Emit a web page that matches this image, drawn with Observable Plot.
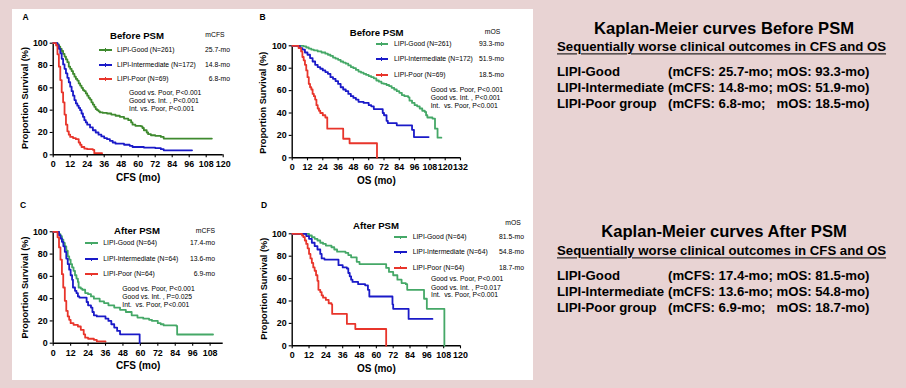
<!DOCTYPE html>
<html>
<head>
<meta charset="utf-8">
<script src="https://cdn.jsdelivr.net/npm/d3@7"></script>
<script src="https://cdn.jsdelivr.net/npm/@observablehq/plot@0.6"></script>
<style>
  html, body { margin: 0; padding: 0; }
  body { width: 906px; height: 388px; position: relative; overflow: hidden; background: #e8d3d3;
         font-family: "Liberation Sans", Arial, sans-serif; color: #000; }
  .abs { position: absolute; white-space: pre; line-height: 1; }
</style>
</head>
<body>
<div style="position:absolute;left:12px;top:9px;width:521px;height:371px;background:#fff"></div>
<script>
// ---------- DATA (month, survival %) ----------
const cfsBeforeGood = [[0,100],[2,100],[3,99],[4,97],[5,95],[6,93],[7,90.5],[8,88],[9,85.5],[10,83],[11,79],[12,77],[13,75],[14,72.5],[15,70],[16,68],[17,66.5],[18,64],[19,62],[20,60],[21,58],[22,57],[23,55],[24,53],[25,51],[26,49.5],[27,47],[28,45],[29,43],[30,41],[31,40],[32,39],[33,38],[35,37.5],[38,37],[41,36],[44,35],[47,34],[50,32.5],[53,31],[55,29],[56,27],[58,26],[62,25.5],[63,24],[64,22],[66,20],[67,18.5],[69,17.5],[72,17],[76,16],[78,14.5],[112,14.5]];
const cfsBeforeInt = [[0,100],[2,100],[3,98],[4,95],[5,91],[6,86],[7,81],[8,77],[9,73],[10,69],[11,65],[12,61],[13,57],[14,53],[15,49],[16,46],[17,44],[18,42],[19,40],[20,37],[21,34],[22,31],[23,29],[24,27],[26,24.5],[28,22],[30,20],[32,18],[34,16.5],[36,15],[38,14],[40,12.5],[42,11],[44,10],[48,10],[50,9],[54,8],[56,7],[64,6.5],[72,6],[76,5],[78,4],[98,4]];
const cfsBeforePoor = [[0,100],[1.5,100],[2,98],[3,90],[4,79],[5,67],[6,56],[7,47],[8,36],[9,27],[10,21],[11,18],[12,16],[14,15],[16,14],[18,11],[19,9],[20,7],[22,5.5],[24,5],[28,4.5],[29,1.5],[34.5,1.5]];

const osBeforeGood = [[0,100],[8,100],[9,99.5],[11,98.5],[13,97.5],[15,96.5],[17,96],[20,95],[23,94],[26,93],[28,92],[30,91],[32,89.5],[34,88.5],[36,87.5],[38,86],[40,85],[42,84],[44,82.5],[46,81],[48,80],[50,78.5],[52,77],[54,76],[56,75],[58,74],[60,73],[62,72],[64,71],[66,69],[68,68],[70,66.5],[72,66],[74,65],[76,64],[78,62.5],[80,61],[82,59.5],[84,58],[86,56],[88,55],[91,54],[92,51],[94,49],[96,47],[98,46],[100,44],[102,42],[104,41],[105,38],[106,36],[110,35],[112,26],[114,18],[117,18]];
const osBeforeInt = [[0,100],[4,100],[6,98],[8,96.5],[10,94],[12,92],[14,89],[16,86],[18,83],[20,81],[22,79.5],[24,78],[26,76.5],[28,75],[30,72],[32,70.5],[34,68.5],[36,66],[38,63],[40,61],[42,59.5],[44,57],[46,55],[48,53.5],[50,52],[52,50],[54,50],[56,49],[60,47],[62,46],[64,43.5],[70,43.5],[71,40],[72,38],[74,33],[75,31],[80,31],[82,29],[93,29],[94,25],[95.5,18.5],[107,18.5]];
const osBeforePoor = [[0,100],[4,100],[5,98],[7,95],[8,90],[9,87],[10,83],[11,78],[12,72],[13,66],[14,63],[15,61],[16,57],[17,55],[18,52],[19,47],[20,44],[21,42],[22,40],[24,38],[26,36],[27.5,26],[39.5,26],[40,17],[45,13],[66,13],[66.5,0]];

const cfsAfterGood = [[0,100],[2.5,100],[4,98],[5,96],[6,93],[7,90],[8,87],[9,83],[10,78],[11,75],[12,71],[13,68],[14,65],[15,61],[16,58],[17,55],[17.5,50],[19,49],[20,48],[22,45],[24,44],[26,42],[28,40],[32,37.5],[35,36],[38,34],[42,32],[46,30],[50,28],[54,25],[58,23],[62,22],[66,21],[68,20],[72,18],[74,17],[76,16],[84.8,15.5],[85.3,7.8],[110,7.8]];
const cfsAfterInt = [[0,100],[3,100],[4,97],[5,94],[6,91],[7,87],[8,82],[9,76],[10,71],[11,66],[12,61],[13,57],[13.6,50],[15,47],[16,45],[17,42],[18,41],[22,41],[23,37],[24,34],[26,32],[27,28],[28,25],[30,24],[34,24],[36,22],[38,20],[40,17],[42,14],[44,11],[46,8],[59,8],[59.5,0]];
const cfsAfterPoor = [[0,100],[2,100],[3,95],[4,86],[5,75],[6,62],[6.9,50],[8,38],[9,29],[10,24],[11,21],[12,18],[14,16.5],[17,15],[19,12],[21,8],[22,5],[24,4],[28,3],[30,1.6],[36,1.6]];

const osAfterGood = [[0,100],[11,100],[12,98.5],[14,97],[16,95.5],[18,94],[20,92],[22,91],[24,89.5],[28,88],[30,86],[32,84],[38,83],[40,81],[42,79],[46,75],[48,73],[66,73],[67,69.5],[69,66],[72,63],[75,59],[78,56],[81,55],[82,50],[93,50],[94,42],[96,33],[108,33],[108.5,0]];
const osAfterInt = [[0,100],[8,100],[10,98],[12,95.5],[14,92],[16,89],[18,86],[20,82],[21,78],[23,77],[32,77],[33,72],[36,70],[39,69],[40,65],[41,62],[42,59],[43,57],[47,55],[52,54],[54,50],[55,44],[70,44],[71.5,37],[72,33],[82,33],[83,24],[100,24]];
const osAfterPoor = [[0,100],[6,100],[7,98.5],[8,97],[9,94],[10,91],[11,87],[12,82],[13,78],[14,74],[15,70],[16,67],[17,63],[18,58],[18.7,50],[20,48],[21,45],[22,43],[24,41],[26,38],[28,37],[28.5,28.5],[38,28.5],[39,19.5],[45,15],[66.5,15],[67,0]];

const yTicks = [0, 20, 40, 60, 80, 100];
const xTicksCfsBefore = [0, 12, 24, 36, 48, 60, 72, 84, 96, 108, 120];
const xTicksOsBefore = [0, 12, 24, 36, 48, 60, 72, 84, 96, 108, 120, 132];
const xTicksCfsAfter = [0, 12, 24, 36, 48, 60, 72, 84, 96, 108];
const xTicksOsAfter = [0, 12, 24, 36, 48, 60, 72, 84, 96, 108, 120];

const legendBefore = ["LIPI-Good (N=261)", "LIPI-Intermediate (N=172)", "LIPI-Poor (N=69)"];
const legendAfter = ["LIPI-Good (N=64)", "LIPI-Intermediate (N=64)", "LIPI-Poor (N=64)"];
const medCfsBefore = ["25.7-mo", "14.8-mo", "6.8-mo"];
const medOsBefore = ["93.3-mo", "51.9-mo", "18.5-mo"];
const medCfsAfter = ["17.4-mo", "13.6-mo", "6.9-mo"];
const medOsAfter = ["81.5-mo", "54.8-mo", "18.7-mo"];
const statsA = ["Good vs. Poor, P<0.001", "Good vs. Int. , P<0.001", "Int. vs. Poor, P<0.001"];
const statsB = ["Good vs. Poor, P<0.001", "Good vs. Int. , P<0.001", "Int.  vs. Poor, P<0.001"];
const statsC = ["Good vs. Poor, P<0.001", "Good vs. Int. , P=0.025", "Int.  vs. Poor, P<0.001"];
const statsD = ["Good vs. Poor, P<0.001", "Good vs. Int. , P=0.017", "Int.  vs. Poor, P<0.001"];

const summaryLabels = ["LIPI-Good", "LIPI-Intermediate", "LIPI-Poor group"];
const summaryBeforeValues = ["(mCFS: 25.7-mo; mOS: 93.3-mo)", "(mCFS: 14.8-mo; mOS: 51.9-mo)", "(mCFS: 6.8-mo;   mOS: 18.5-mo)"];
const summaryAfterValues = ["(mCFS: 17.4-mo; mOS: 81.5-mo)", "(mCFS: 13.6-mo; mOS: 54.8-mo)", "(mCFS: 6.9-mo;   mOS: 18.7-mo)"];

// ---------- STYLE / LAYOUT ----------
const FONT = '"Liberation Sans", Arial, sans-serif';
const greenDark = "#3f8a2f", green = "#45a867", blue = "#1a1ac8", red = "#e8352b";

const panels = [
  {letter: "A", svg: {left: 12, top: 9, width: 262, height: 183, ml: 40.7, mr: 51.3, mt: 33.7, mb: 37.7},
   xDomain: [0, 120], xTicks: xTicksCfsBefore, xLabel: "CFS (mo)", xLabelDy: 25.7, yLabelDx: -27.7, yLabelDy: -1,
   series: [cfsBeforeGood, cfsBeforeInt, cfsBeforePoor], colors: [greenDark, blue, red],
   title: "Before PSM", titlePos: [137, 36], medHead: "mCFS", medHeadPos: [215, 35],
   letterPos: [25.5, 17], swX: 99, labX: 117, valR: 230, legY: [50, 65, 79],
   labels: legendBefore, meds: medCfsBefore, stats: statsA, statsX: 129, statsY: [93, 101, 109]},
  {letter: "B", svg: {left: 245, top: 9, width: 290, height: 183, ml: 46.7, mr: 75, mt: 36.3, mb: 34.7},
   xDomain: [0, 132], xTicks: xTicksOsBefore, xLabel: "OS (mo)", xLabelDy: 25.7, yLabelDx: -28.7, yLabelDy: 1,
   series: [osBeforeGood, osBeforeInt, osBeforePoor], colors: [green, blue, red],
   title: "Before PSM", titlePos: [376.7, 33], medHead: "mOS", medHeadPos: [492.5, 32],
   letterPos: [262.5, 17], swX: 375.5, labX: 394, valR: 504, legY: [44, 59, 75],
   labels: legendBefore, meds: medOsBefore, stats: statsB, statsX: 430.7, statsY: [90, 98, 106]},
  {letter: "C", svg: {left: 12, top: 195, width: 262, height: 190, ml: 40.7, mr: 51.3, mt: 36.3, mb: 42.3},
   xDomain: [0, 117], xTicks: xTicksCfsAfter, xLabel: "CFS (mo)", xLabelDy: 25.3, yLabelDx: -27.7, yLabelDy: 0,
   series: [cfsAfterGood, cfsAfterInt, cfsAfterPoor], colors: [green, blue, red],
   title: "After PSM", titlePos: [137, 230.7], medHead: "mCFS", medHeadPos: [205.5, 230.7],
   letterPos: [23, 205], swX: 85, labX: 103.3, valR: 215, legY: [243.3, 259.3, 274.3],
   labels: legendAfter, meds: medCfsAfter, stats: statsC, statsX: 122.3, statsY: [289, 297, 304.7]},
  {letter: "D", svg: {left: 245, top: 195, width: 290, height: 190, ml: 46.7, mr: 75, mt: 38.3, mb: 39.7},
   xDomain: [0, 120], xTicks: xTicksOsAfter, xLabel: "OS (mo)", xLabelDy: 26.4, yLabelDx: -28.4, yLabelDy: -1,
   series: [osAfterGood, osAfterInt, osAfterPoor], colors: [green, blue, red],
   title: "After PSM", titlePos: [376, 226], medHead: "mOS", medHeadPos: [513, 223.3],
   letterPos: [264, 205], swX: 394, labX: 412.7, valR: 524, legY: [237.3, 252.3, 267.7],
   labels: legendAfter, meds: medOsAfter, stats: statsD, statsX: 431, statsY: [279.3, 287.7, 295]}
];

function txt(text, x, y, o = {}) {
  const d = document.createElement("div");
  d.className = "abs";
  d.textContent = text;
  const tx = o.anchor === "middle" ? "-50%" : o.anchor === "end" ? "-100%" : "0";
  Object.assign(d.style, {left: x + "px", top: y + "px", transform: `translate(${tx},-50%)`,
    fontSize: (o.size || 7) + "px", fontWeight: o.weight || "normal", color: o.color || "#000"});
  if (o.underline) { d.style.textDecoration = "underline"; d.style.textDecorationThickness = "1.4px"; d.style.textUnderlineOffset = "1.5px"; }
  document.body.appendChild(d);
  return d;
}
function box(x, y, w, h, color) {
  const d = document.createElement("div");
  Object.assign(d.style, {position: "absolute", left: x + "px", top: y + "px", width: w + "px", height: h + "px", background: color});
  document.body.appendChild(d);
}

for (const p of panels) {
  const s = p.svg;
  const chart = Plot.plot({
    width: s.width, height: s.height,
    marginLeft: s.ml, marginRight: s.mr, marginTop: s.mt, marginBottom: s.mb,
    x: {domain: p.xDomain},
    y: {domain: [0, 100]},
    style: {fontFamily: FONT, fontWeight: "bold", fontSize: "8.9px", background: "transparent", color: "#000", overflow: "visible"},
    marks: [
      Plot.axisX({ticks: p.xTicks, tickSize: 3, tickPadding: 3.2, tickFormat: d => String(d), label: null, strokeWidth: 1.1}),
      Plot.axisY({ticks: yTicks, tickSize: 3, tickPadding: 2.5, tickFormat: d => String(d), label: null, strokeWidth: 1.1}),
      Plot.ruleY([0], {stroke: "#000", strokeWidth: 1.4}),
      Plot.ruleX([0], {stroke: "#000", strokeWidth: 1.4}),
      ...p.series.map((ser, i) => Plot.line(ser, {x: d => d[0], y: d => d[1], stroke: p.colors[i], strokeWidth: 1.8, curve: "step-after"})),
      Plot.text([p.xLabel], {text: d => d, frameAnchor: "bottom", dy: p.xLabelDy, fontSize: 10, fontWeight: "bold"}),
      Plot.text(["Proportion Survival (%)"], {text: d => d, frameAnchor: "left", textAnchor: "middle", dx: p.yLabelDx, dy: p.yLabelDy, rotate: -90, fontSize: 9.2, fontWeight: "bold"})
    ]
  });
  Object.assign(chart.style, {position: "absolute", left: s.left + "px", top: s.top + "px", maxWidth: "none", background: "transparent"});
  document.body.appendChild(chart);

  txt(p.letter, p.letterPos[0], p.letterPos[1], {size: 8.5, weight: "bold", anchor: "middle"});
  txt(p.title, p.titlePos[0], p.titlePos[1], {size: 9.6, weight: "bold", anchor: "middle"});
  txt(p.medHead, p.medHeadPos[0], p.medHeadPos[1], {size: 6.8, anchor: "middle"});
  p.legY.forEach((y, i) => {
    box(p.swX, y - 0.9, 12.5, 1.8, p.colors[i]);
    box(p.swX + 5.8, y - 1.8, 1, 3.6, p.colors[i]);
    txt(p.labels[i], p.labX, y, {size: 6.8});
    txt(p.meds[i], p.valR, y, {size: 6.8, anchor: "end"});
  });
  p.stats.forEach((t, i) => txt(t, p.statsX, p.statsY[i], {size: 6.8}));
}

// ---------- right-hand summary ----------
const summaries = [
  {title: "Kaplan-Meier curves Before PSM", ty: 28.5, sy: 47, ly: [72, 88, 104], values: summaryBeforeValues},
  {title: "Kaplan-Meier curves After PSM", ty: 231.7, sy: 250.7, ly: [276.3, 292, 308], values: summaryAfterValues}
];
for (const sm of summaries) {
  txt(sm.title, 724, sm.ty, {size: 16.6, weight: "bold", anchor: "middle"});
  txt("Sequentially worse clinical outcomes in CFS and OS", 557, sm.sy, {size: 13.2, weight: "bold", underline: true});
  sm.ly.forEach((y, i) => {
    txt(summaryLabels[i], 557, y, {size: 13.2, weight: "bold"});
    txt(sm.values[i], 668, y, {size: 13.2, weight: "bold"});
  });
}
</script>
</body>
</html>
